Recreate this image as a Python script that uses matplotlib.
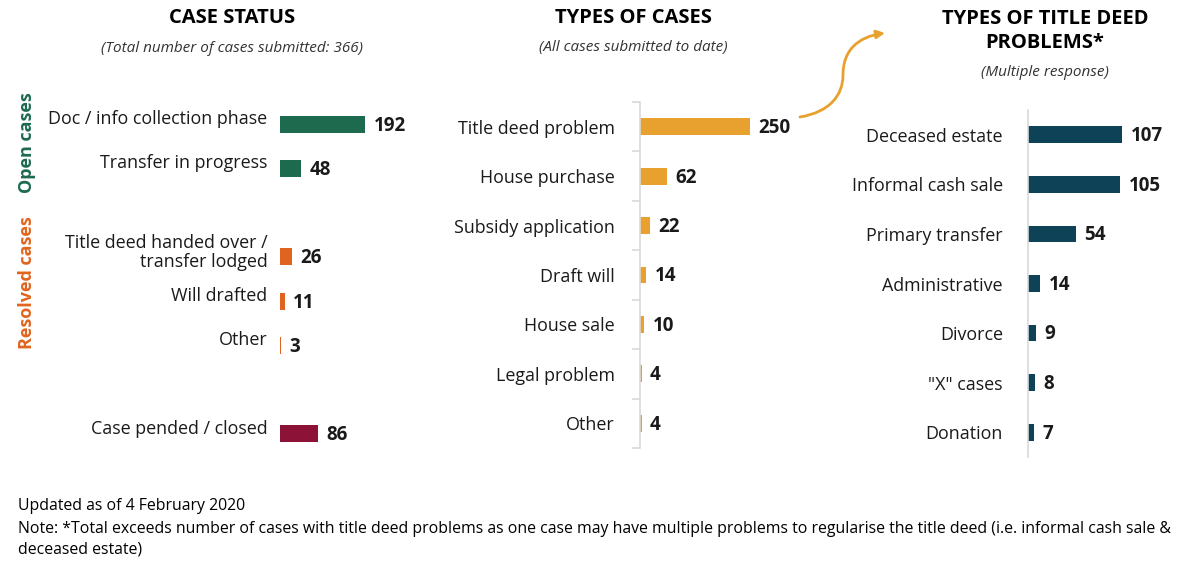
import numpy as np
import matplotlib.pyplot as plt
from matplotlib.path import Path
from matplotlib.patches import FancyArrowPatch
import matplotlib.transforms as mtransforms

plt.rcParams['font.family'] = ['Open Sans', 'DejaVu Sans']

# ---- data ----
status_labels = ["Doc / info collection phase", "Transfer in progress",
                 "Title deed handed over /\ntransfer lodged", "Will drafted", "Other",
                 "Case pended / closed"]
status_values = [192, 48, 26, 11, 3, 86]
status_rows = [0, 1, 3, 4, 5, 7]
status_colors = ["#1d6a4f", "#1d6a4f", "#e0641f", "#e0641f", "#e0641f", "#8c1238"]

type_labels = ["Title deed problem", "House purchase", "Subsidy application",
               "Draft will", "House sale", "Legal problem", "Other"]
type_values = [250, 62, 22, 14, 10, 4, 4]

deed_labels = ["Deceased estate", "Informal cash sale", "Primary transfer",
               "Administrative", "Divorce", "\"X\" cases", "Donation"]
deed_values = [107, 105, 54, 14, 9, 8, 7]

W, H = 1200, 563
fig = plt.figure(figsize=(12, 5.63), dpi=100)


def px_axes(x0, y0, x1, y1):
    # axes from pixel box (top-left origin)
    return fig.add_axes([x0 / W, 1 - y1 / H, (x1 - x0) / W, (y1 - y0) / H])


def ftext(x, y, s, **kw):
    fig.text(x / W, 1 - y / H, s, **kw)


def style(ax, xmax, ylim, spine=True):
    ax.set_xlim(0, xmax)
    ax.set_ylim(*ylim)
    for side in ["top", "right", "bottom"]:
        ax.spines[side].set_visible(False)
    ax.spines["left"].set_visible(spine)
    ax.spines["left"].set_color("#d9d9d9")
    ax.spines["left"].set_linewidth(1.2)
    ax.set_xticks([])
    ax.patch.set_alpha(0)


def value_labels(ax, rows, vals, pad):
    for r, v in zip(rows, vals):
        ax.annotate(str(v), (v, r), xytext=(pad, -1), textcoords="offset points",
                    ha="left", va="center", fontsize=13.5, fontweight="bold", color="#1a1a1a")


# ---- panel 1: case status ----
ax1 = px_axes(280, 102, 420, 456)
ax1.barh(status_rows, status_values, height=0.38, color=status_colors)
style(ax1, 140 / 0.443, (7.5, -0.5), spine=False)
ax1.set_yticks(status_rows)
ax1.set_yticklabels(status_labels, fontsize=12.9, color="#1a1a1a", linespacing=1.1)
ax1.tick_params(axis="y", length=0, pad=9)
off = mtransforms.ScaledTranslation(0, 7 / 100, fig.dpi_scale_trans)
for lab in ax1.get_yticklabels():
    lab.set_transform(lab.get_transform() + off)
value_labels(ax1, status_rows, status_values, 6)

ftext(232, 18, "CASE STATUS", ha="center", va="center", fontsize=14.5, fontweight="bold")
ftext(232, 48, "(Total number of cases submitted: 366)", ha="center", va="center",
      fontsize=11, style="italic", color="#333333")
ftext(27, 143, "Open cases", rotation=90, ha="center", va="center", fontsize=13,
      fontweight="bold", color="#1d6a4f")
ftext(27, 283, "Resolved cases", rotation=90, ha="center", va="center", fontsize=13,
      fontweight="bold", color="#e0641f")

# ---- panel 2: types of cases ----
rows2 = np.arange(len(type_values))
ax2 = px_axes(640, 102, 800, 448)
ax2.barh(rows2, type_values, height=0.34, color="#e8a02e")
style(ax2, 160 / 0.44, (6.5, -0.5))
ax2.set_yticks(rows2)
ax2.set_yticklabels(type_labels, fontsize=12.9, color="#1a1a1a")
ax2.tick_params(axis="y", which="major", length=0, pad=18)
ax2.set_yticks(np.arange(-0.5, 7, 1), minor=True)
ax2.tick_params(axis="y", which="minor", length=6, color="#d9d9d9", width=1.2)
value_labels(ax2, rows2, type_values, 6)

ftext(633, 18, "TYPES OF CASES", ha="center", va="center", fontsize=14.5, fontweight="bold")
ftext(633, 48, "(All cases submitted to date)", ha="center", va="center",
      fontsize=11, style="italic", color="#333333")

# ---- panel 3: title deed problems ----
rows3 = np.arange(len(deed_values))
ax3 = px_axes(1028, 110, 1190, 457)
ax3.barh(rows3, deed_values, height=0.34, color="#0d4257")
style(ax3, 162 / 0.88, (6.5, -0.5))
ax3.set_yticks(rows3)
ax3.set_yticklabels(deed_labels, fontsize=12.9, color="#1a1a1a")
ax3.tick_params(axis="y", length=0, pad=18)
value_labels(ax3, rows3, deed_values, 6)

ftext(1045, 31, "TYPES OF TITLE DEED\nPROBLEMS*", ha="center", va="center", fontsize=14.5,
      fontweight="bold", linespacing=1.2)
ftext(1045, 73, "(Multiple response)", ha="center", va="center",
      fontsize=11, style="italic", color="#333333")

# ---- curved arrow linking panels ----
pts = [(800, 117), (830, 112), (843, 95), (843, 75), (843, 50), (858, 37), (885, 33)]
verts = [(x / W, 1 - y / H) for x, y in pts]
codes = [Path.MOVETO] + [Path.CURVE4] * 6
arrow = FancyArrowPatch(path=Path(verts, codes), arrowstyle="-|>", mutation_scale=12,
                        color="#e8a02e", lw=2, transform=fig.transFigure)
fig.patches.append(arrow)

# ---- footnotes ----
ftext(18, 506, "Updated as of 4 February 2020", ha="left", va="center", fontsize=11.4)
ftext(18, 539, "Note: *Total exceeds number of cases with title deed problems as one case may have "
      "multiple problems to regularise the title deed (i.e. informal cash sale &\ndeceased estate)",
      ha="left", va="center", fontsize=11.4, linespacing=1.35)

fig.savefig("out.png", dpi=100, facecolor="white")
